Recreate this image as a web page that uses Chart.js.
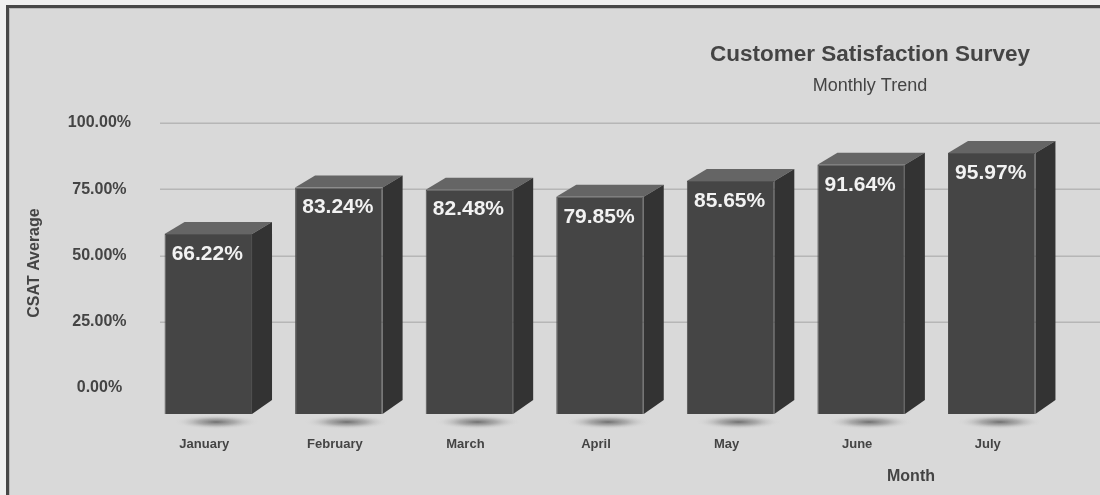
<!DOCTYPE html>
<html>
<head>
<meta charset="utf-8">
<script src="https://cdn.jsdelivr.net/npm/chart.js@4.4.1/dist/chart.umd.min.js"></script>
<style>
  html, body { margin: 0; padding: 0; background: #efefef; width: 1100px; height: 495px; overflow: hidden; }
  #frame { position: absolute; left: 6px; top: 5px; width: 1200px; height: 600px;
           background: #d9d9d9; border-left: 3px solid #474747; border-top: 3px solid #474747;
           box-shadow: inset 1px 1px 0 #b9b9b9; }
  #c { position: absolute; left: 0; top: 0; }
</style>
</head>
<body>
<div id="frame"></div>
<canvas id="c" width="1100" height="495" style="width:1100px;height:495px"></canvas>
<script>
// ---- data ----
const months = ['January', 'February', 'March', 'April', 'May', 'June', 'July'];
const csat = [66.22, 83.24, 82.48, 79.85, 85.65, 91.64, 95.97];
const yTickValues = [0, 25, 50, 75, 100];
const chartTitle = 'Customer Satisfaction Survey';
const chartSubtitle = 'Monthly Trend';
const yTitle = 'CSAT Average';
const xTitle = 'Month';

const FONT = '"Liberation Sans", Arial, Helvetica, sans-serif';
const DX = 20, DY = 12;

const decor = {
  id: 'decor',
  beforeDatasetsDraw(chart) {
    const ctx = chart.ctx;
    const ys = chart.scales.y;
    ctx.save();
    ctx.strokeStyle = '#b6b6b6';
    ctx.lineWidth = 1.5;
    yTickValues.forEach(v => {
      if (v === 0) return;
      const y = Math.round(ys.getPixelForValue(v)) + 0.25;
      ctx.beginPath();
      ctx.moveTo(160, y);
      ctx.lineTo(1100, y);
      ctx.stroke();
    });
    // shadows under bars
    const meta = chart.getDatasetMeta(0);
    meta.data.forEach(bar => {
      const cx = bar.x + 8, cy = bar.base + 8;
      ctx.save();
      ctx.translate(cx, cy);
      ctx.scale(1, 0.17);
      const g = ctx.createRadialGradient(0, 0, 0, 0, 0, 42);
      g.addColorStop(0, 'rgba(105,105,105,0.95)');
      g.addColorStop(0.45, 'rgba(140,140,140,0.6)');
      g.addColorStop(1, 'rgba(217,217,217,0)');
      ctx.fillStyle = g;
      ctx.beginPath();
      ctx.arc(0, 0, 42, 0, Math.PI * 2);
      ctx.fill();
      ctx.restore();
    });
    ctx.restore();
  },
  afterDatasetsDraw(chart) {
    const ctx = chart.ctx;
    const meta = chart.getDatasetMeta(0);
    ctx.save();
    meta.data.forEach((bar, i) => {
      const l = bar.x - bar.width / 2, r = bar.x + bar.width / 2;
      const t = bar.y, b = bar.base;
      // top face
      ctx.fillStyle = '#656565';
      ctx.beginPath();
      ctx.moveTo(l, t); ctx.lineTo(l + DX, t - DY); ctx.lineTo(r + DX, t - DY); ctx.lineTo(r, t);
      ctx.closePath(); ctx.fill();
      // side face
      ctx.fillStyle = '#333333';
      ctx.beginPath();
      ctx.moveTo(r, t); ctx.lineTo(r + DX, t - DY); ctx.lineTo(r + DX, b - DY - 2); ctx.lineTo(r, b);
      ctx.closePath(); ctx.fill();
      // value label
      ctx.fillStyle = '#f2f2f2';
      ctx.font = 'bold 21px ' + FONT;
      ctx.textAlign = 'center';
      ctx.textBaseline = 'middle';
      ctx.fillText(csat[i].toFixed(2) + '%', bar.x - 1, t + 20);
    });
    ctx.restore();
  },
  afterDraw(chart) {
    const ctx = chart.ctx;
    ctx.save();
    ctx.fillStyle = '#444444';
    ctx.textAlign = 'center';
    ctx.textBaseline = 'middle';
    ctx.font = 'bold 22.5px ' + FONT;
    ctx.fillText(chartTitle, 870, 55);
    ctx.font = '18px ' + FONT;
    ctx.fillText(chartSubtitle, 870, 86);
    ctx.font = 'bold 16px ' + FONT;
    ctx.fillText(xTitle, 911, 477);
    ctx.translate(35, 263);
    ctx.rotate(-Math.PI / 2);
    ctx.fillText(yTitle, 0, 0);
    ctx.restore();
  }
};

new Chart(document.getElementById('c'), {
  type: 'bar',
  data: {
    labels: months,
    datasets: [{
      data: csat,
      yAxisID: 'yBar',
      backgroundColor: '#454545',
      borderColor: '#505050',
      borderWidth: 1,
      barPercentage: 0.67,
      categoryPercentage: 1
    }]
  },
  options: {
    responsive: false,
    animation: false,
    devicePixelRatio: 1,
    layout: { padding: { top: 123, left: 0, right: 43, bottom: 0 } },
    plugins: { legend: { display: false }, tooltip: { enabled: false }, title: { display: false } },
    scales: {
      x: {
        type: 'category',
        offset: true,
        grid: { display: false, drawTicks: false },
        border: { display: false },
        ticks: { color: '#444444', font: { family: FONT, size: 13, weight: 'bold' }, padding: 23, labelOffset: -4, maxRotation: 0 },
        afterFit(s) { s.height = 81; }
      },
      y: {
        position: 'left',
        min: -9.81,
        max: 100,
        grid: { display: false, drawTicks: false },
        border: { display: false },
        afterBuildTicks(s) { s.ticks = yTickValues.map(v => ({ value: v })); },
        ticks: {
          color: '#444444',
          font: { family: FONT, size: 16, weight: 'bold' },
          crossAlign: 'center',
          padding: 12,
          callback: v => Number(v).toFixed(2) + '%'
        },
        afterFit(s) { s.width = 143; }
      },
      yBar: { display: false, min: 0, max: 107 }
    }
  },
  plugins: [decor]
});
</script>
</body>
</html>
